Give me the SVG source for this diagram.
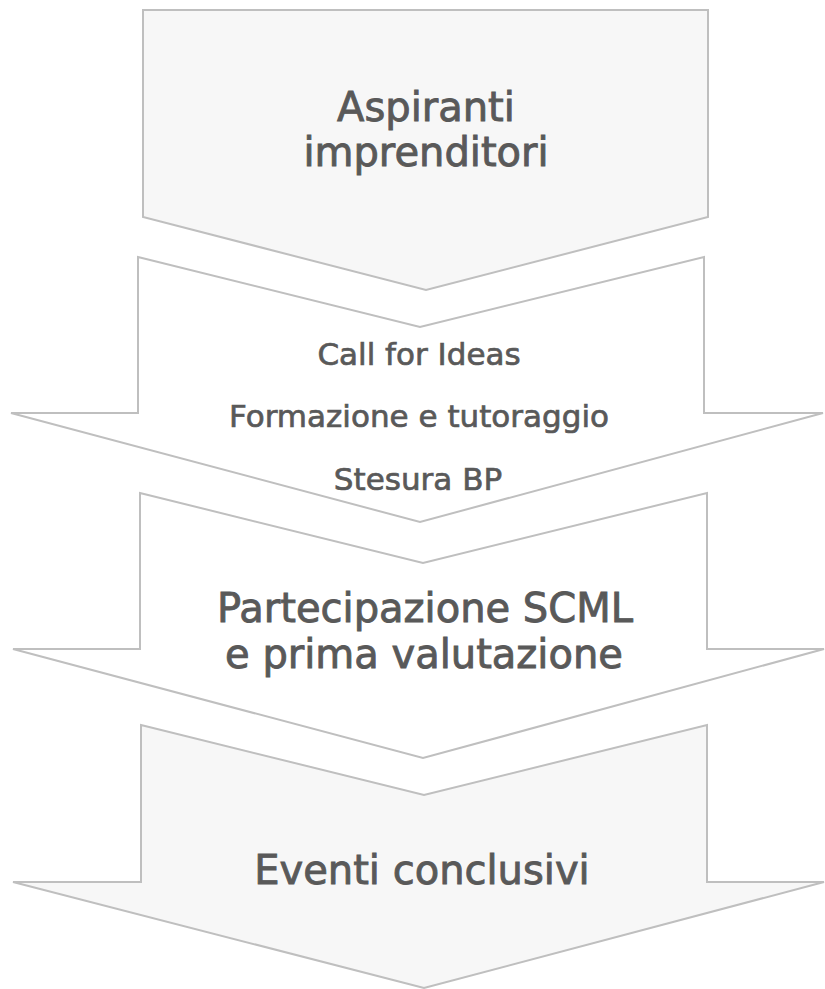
<svg xmlns="http://www.w3.org/2000/svg" width="825" height="989" viewBox="0 0 825 989">
  <style>
    .shape { stroke: #bfbfbf; stroke-width: 2; stroke-linejoin: miter; }
    .grey { fill: #f7f7f7; }
    .white { fill: #ffffff; }
    .label { font-family: "DejaVu Sans", Verdana, sans-serif; fill: #595959; stroke: #595959; text-anchor: middle; }
    .big { font-size: 40px; stroke-width: 0.9; }
    .small { font-size: 31px; stroke-width: 0.7; }
  </style>
  <rect width="825" height="989" fill="#ffffff"/>
  <g id="node-aspiranti">
    <polygon class="shape grey" points="143,10 708,10 708,217 426,290 143,217"/>
    <text class="label big" x="426" y="121">Aspiranti</text>
    <text class="label big" x="426" y="166">imprenditori</text>
  </g>
  <g id="node-call">
    <polygon class="shape white" points="138,257 420,327 704,257 704,413 823,413 420,522 11,413 138,413"/>
    <text class="label small" x="419" y="365">Call for Ideas</text>
    <text class="label small" x="419" y="427">Formazione e tutoraggio</text>
    <text class="label small" x="418" y="490">Stesura BP</text>
  </g>
  <g id="node-partecipazione">
    <polygon class="shape white" points="140,493 423,563 707,493 707,649 824,649 423,758 13,649 140,649"/>
    <text class="label big" x="425" y="622">Partecipazione SCML</text>
    <text class="label big" x="424" y="668">e prima valutazione</text>
  </g>
  <g id="node-eventi">
    <polygon class="shape grey" points="141,725 424,795 707,725 707,882 824,882 424,988 13,882 141,882"/>
    <text class="label big" x="422" y="884">Eventi conclusivi</text>
  </g>
  <g id="connectors"></g>
</svg>
